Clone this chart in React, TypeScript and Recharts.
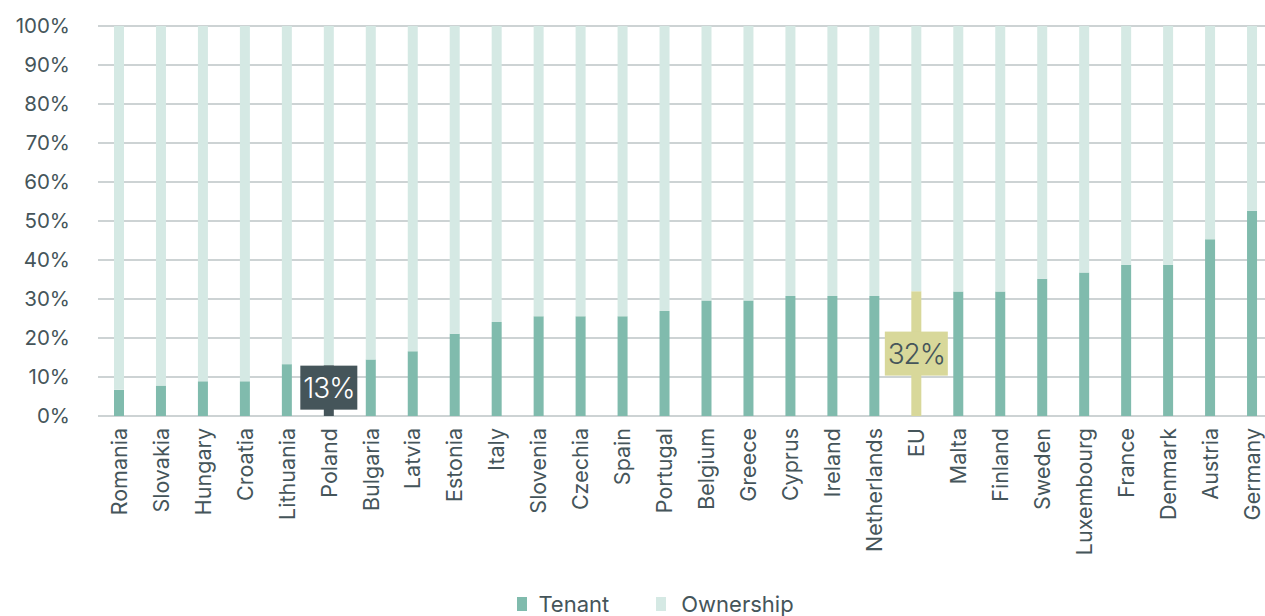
import React from "react";
import { BarChart, Bar, XAxis, YAxis, CartesianGrid, Cell, LabelList, Legend } from "recharts";

const countries = [
  "Romania", "Slovakia", "Hungary", "Croatia", "Lithuania", "Poland", "Bulgaria",
  "Latvia", "Estonia", "Italy", "Slovenia", "Czechia", "Spain", "Portugal",
  "Belgium", "Greece", "Cyprus", "Ireland", "Netherlands", "EU", "Malta",
  "Finland", "Sweden", "Luxembourg", "France", "Denmark", "Austria", "Germany",
];
const tenant = [
  6.7, 7.8, 8.9, 8.9, 13.3, 13, 14.5,
  16.6, 21.1, 24.1, 25.6, 25.6, 25.6, 26.9,
  29.6, 29.6, 30.8, 30.8, 30.8, 32, 31.9,
  31.9, 35.2, 36.8, 38.8, 38.8, 45.3, 52.6,
];
const ownership = tenant.map((t) => 100 - t);
const highlighted = ["Poland", "EU"];
const highlightLabels = ["13%", "32%"];
const yTicks = [0, 10, 20, 30, 40, 50, 60, 70, 80, 90, 100];

const TENANT = "#80bbad";
const OWN = "#d5e9e4";
const DARK = "#45555a";
const YELLOW = "#d8d89a";
const GRID = "#cdd3d4";
const FONT = "Inter, 'Noto Sans', sans-serif";

const data = countries.map((c, i) => ({ country: c, Tenant: tenant[i], Ownership: ownership[i] }));

const tenantColor = (c: string) => (c === "Poland" ? DARK : c === "EU" ? YELLOW : TENANT);

const XTick = (props: any) => {
  const { x, y, payload } = props;
  return (
    <text
      x={x}
      y={y}
      transform={`rotate(-90, ${x}, ${y})`}
      textAnchor="end"
      dy="0.36em"
      fill={DARK}
      fontSize={21.5}
      fontFamily={FONT}
    >
      {payload.value}
    </text>
  );
};

const HighlightLabel = (props: any) => {
  const { x, y, width, height, index } = props;
  const c = countries[index];
  const k = highlighted.indexOf(c);
  if (k < 0) return null;
  const txt = highlightLabels[k];
  const isPoland = c === "Poland";
  const bw = isPoland ? 57 : 63;
  const bh = 44;
  const cx = x + width / 2;
  const cy = y + height / 2 - (isPoland ? 3 : 0);
  return (
    <g>
      <rect x={cx - bw / 2} y={cy - bh / 2} width={bw} height={bh} fill={isPoland ? DARK : YELLOW} />
      <text
        x={cx}
        y={cy}
        dy="0.36em"
        textAnchor="middle"
        fontSize={28}
        fontFamily={FONT}
        fontWeight={300}
        letterSpacing={-1}
        fill={isPoland ? "#ffffff" : DARK}
      >
        {txt}
      </text>
    </g>
  );
};

const LegendContent = () => (
  <div
    style={{
      display: "flex",
      justifyContent: "center",
      alignItems: "center",
      fontFamily: FONT,
      fontSize: 22,
      color: DARK,
      paddingLeft: 38,
      marginTop: 5,
    }}
  >
    <span style={{ display: "inline-block", width: 10, height: 14, background: TENANT, marginRight: 11 }} />
    <span style={{ marginRight: 47 }}>Tenant</span>
    <span style={{ display: "inline-block", width: 10, height: 14, background: OWN, marginRight: 15 }} />
    <span>Ownership</span>
  </div>
);

export default function App() {
  return (
    <div style={{ position: "absolute", left: 0, top: 0, width: 1265, height: 616, overflow: "hidden", background: "#fff" }}>
      <BarChart
        width={1280}
        height={616}
        data={data}
        margin={{ top: 26, right: 7, bottom: 0, left: 0 }}
        barSize={10}
      >
        <CartesianGrid vertical={false} stroke={GRID} strokeWidth={2} />
        <XAxis
          dataKey="country"
          interval={0}
          tick={<XTick />}
          tickLine={false}
          axisLine={false}
          height={170}
          tickSize={0}
          tickMargin={12}
        />
        <YAxis
          domain={[0, 100]}
          ticks={yTicks}
          tickFormatter={(v: number) => `${v}%`}
          width={98}
          axisLine={false}
          tickLine={false}
          tickSize={0}
          tickMargin={28}
          interval={0}
          tick={{ fill: DARK, fontSize: 20.5, fontFamily: FONT }}
        />
        <Legend verticalAlign="bottom" height={30} content={<LegendContent />} />
        <Bar dataKey="Tenant" stackId="a" fill={TENANT} isAnimationActive={false}>
          {data.map((d) => (
            <Cell key={d.country} fill={tenantColor(d.country)} />
          ))}
          <LabelList dataKey="Tenant" content={<HighlightLabel />} />
        </Bar>
        <Bar dataKey="Ownership" stackId="a" fill={OWN} isAnimationActive={false} />
      </BarChart>
    </div>
  );
}
